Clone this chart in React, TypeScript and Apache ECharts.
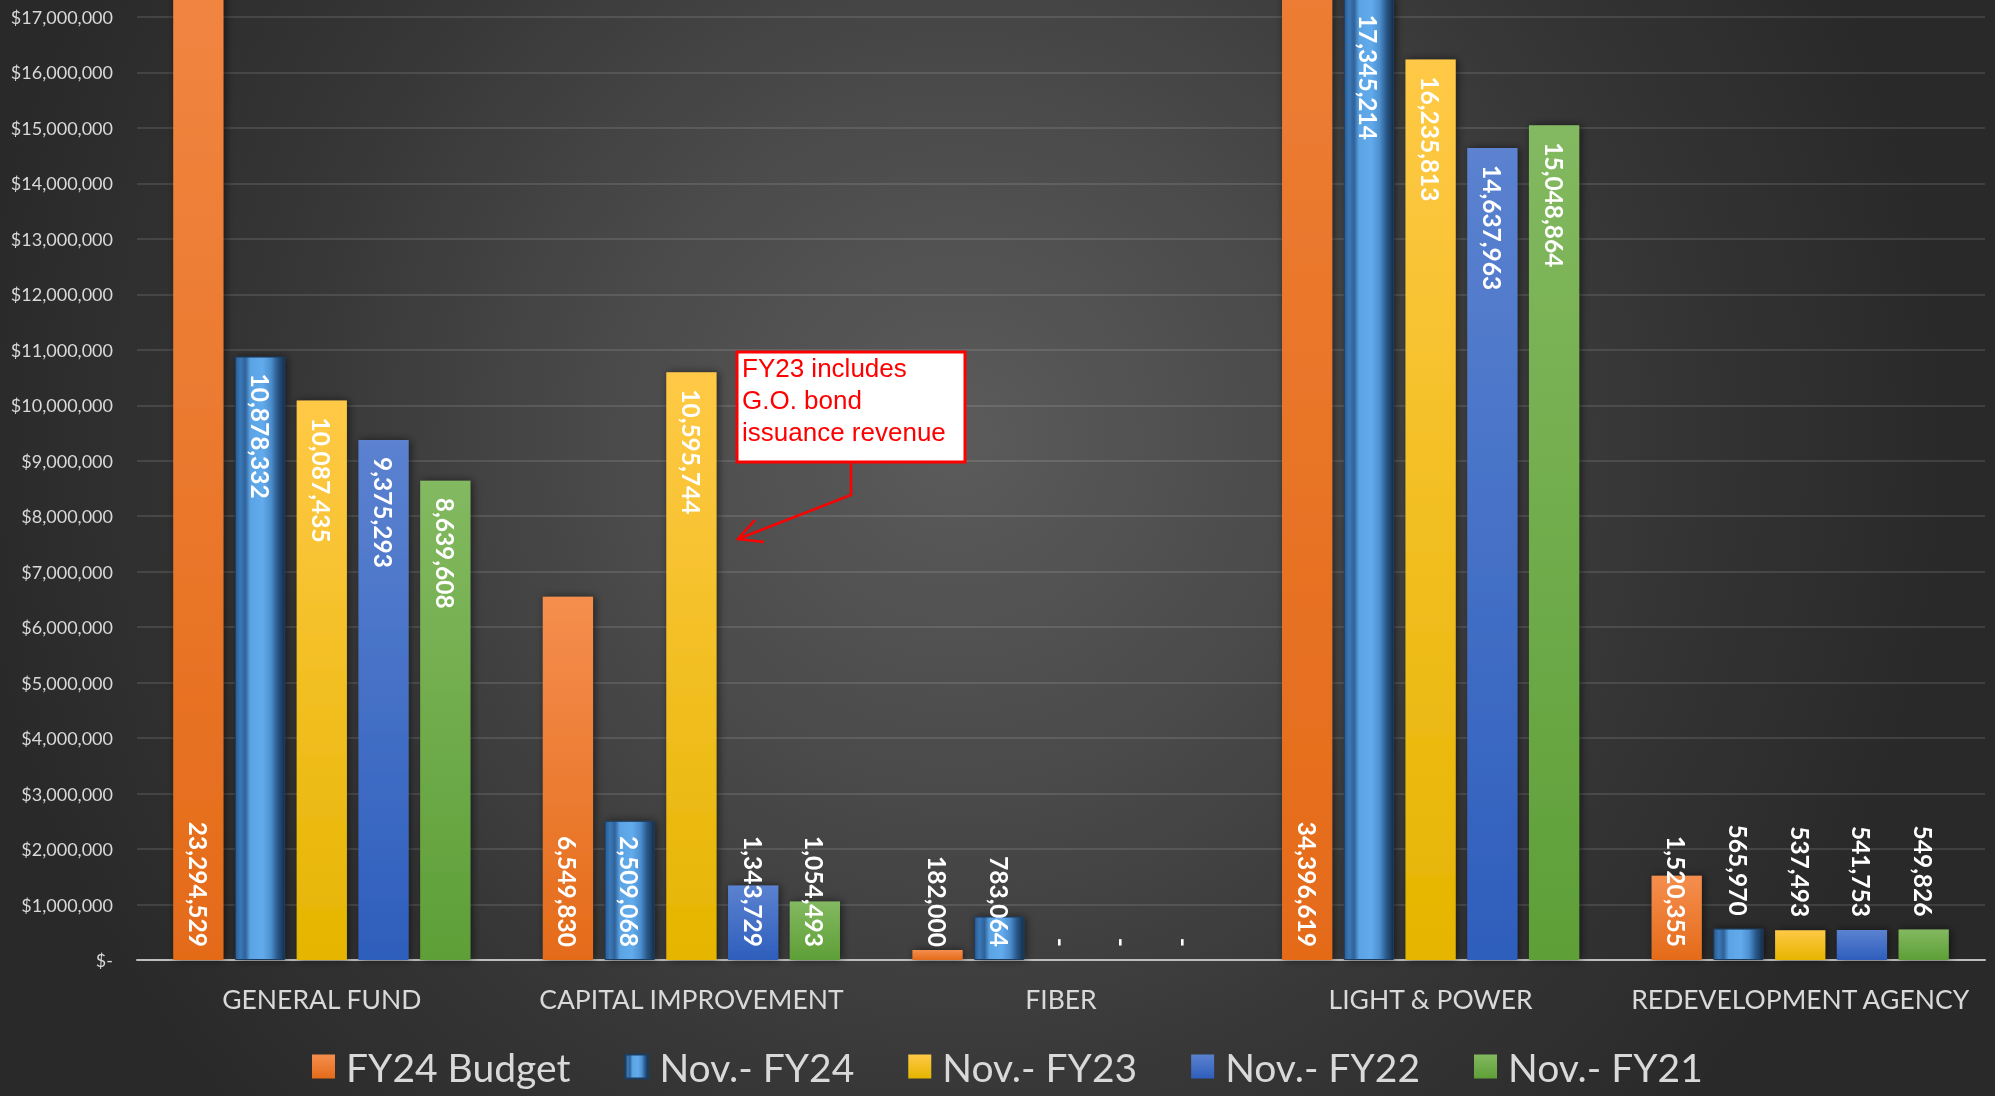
import React, { useEffect, useRef } from "react";
import * as echarts from "echarts";

// ---------- data ----------
const categories = ["GENERAL FUND", "CAPITAL IMPROVEMENT", "FIBER", "LIGHT & POWER", "REDEVELOPMENT AGENCY"];
const seriesNames = ["FY24 Budget", "Nov.- FY24", "Nov.- FY23", "Nov.- FY22", "Nov.- FY21"];
const fy24Budget = [23294529, 6549830, 182000, 34396619, 1520355];
const novFY24 = [10878332, 2509068, 783064, 17345214, 565970];
const novFY23 = [10087435, 10595744, 0, 16235813, 537493];
const novFY22 = [9375293, 1343729, 0, 14637963, 541753];
const novFY21 = [8639608, 1054493, 0, 15048864, 549826];
const yMin = 0;
const yMax = 17000000;
const yStep = 1000000;
const annotationLines = ["FY23 includes", "G.O. bond", "issuance revenue"];

// ---------- styling ----------
const labelPlacement: string[][] = [
  ["base", "base", "base", "base", "base"],
  ["inside", "base", "base", "inside", "top"],
  ["inside", "inside", "base", "inside", "top"],
  ["inside", "base", "base", "inside", "top"],
  ["inside", "base", "base", "inside", "top"],
];

const vgrad = (a: string, b: string) => ({
  type: "linear", x: 0, y: 0, x2: 0, y2: 1,
  colorStops: [{ offset: 0, color: a }, { offset: 1, color: b }],
});
const bevel = {
  type: "linear", x: 0, y: 0, x2: 1, y2: 0,
  colorStops: [
    { offset: 0, color: "#2a5d93" },
    { offset: 0.1, color: "#3b78b8" },
    { offset: 0.2, color: "#2f6299" },
    { offset: 0.3, color: "#5aa3e3" },
    { offset: 0.55, color: "#62abec" },
    { offset: 0.72, color: "#4d8fcf" },
    { offset: 0.85, color: "#2a5a8c" },
    { offset: 1, color: "#162f4a" },
  ],
};
const seriesColors: any[] = [
  vgrad("#f58e4e", "#e46b19"),
  bevel,
  vgrad("#ffc946", "#e5b500"),
  vgrad("#5b82d0", "#2e5ebc"),
  vgrad("#83b960", "#5e9f37"),
];
const seriesData = [fy24Budget, novFY24, novFY23, novFY22, novFY21];

const labelFont = { color: "#ffffff", fontFamily: "Lato", fontWeight: "bold", fontSize: 24.5 };
function labelFor(mode: string) {
  if (mode === "inside") return { show: true, position: "insideTop", distance: 17, rotate: -90, align: "left", verticalAlign: "middle", ...labelFont };
  if (mode === "top") return { show: true, position: "top", distance: 13, rotate: -90, align: "right", verticalAlign: "middle", ...labelFont };
  return { show: true, position: "insideBottom", distance: 13, rotate: -90, align: "right", verticalAlign: "middle", ...labelFont };
}

const fmtNum = (v: number) => (v === 0 ? "-" : v.toLocaleString("en-US"));

export default function App() {
  const ref = useRef<HTMLDivElement>(null);
  useEffect(() => {
    const chart = echarts.init(ref.current!, null, { renderer: "svg" });
    const series = seriesNames.map((name, si) => ({
      name,
      type: "bar",
      clip: false,
      barGap: "23%",
      barCategoryGap: "19.6%",
      itemStyle: {
        color: seriesColors[si],
        borderColor: si === 1 ? "#1d3d5e" : undefined,
        borderWidth: si === 1 ? 1 : 0,
        shadowBlur: 8,
        shadowColor: "rgba(0,0,0,0.55)",
        shadowOffsetX: 2,
      },
      label: { formatter: (p: any) => fmtNum(p.value) },
      data: seriesData[si].map((v, ci) => ({ value: v, label: labelFor(labelPlacement[si][ci]) })),
    }));
    chart.setOption({
      animation: false,
      backgroundColor: "transparent",
      grid: { left: 137, right: 10, top: 17, bottom: 136, containLabel: false, outerBoundsMode: "none" },
      legend: {
        data: seriesNames,
        left: 307,
        top: 1042,
        icon: "rect",
        itemWidth: 23,
        itemHeight: 24,
        itemGap: 54,
        textStyle: { color: "#d9d9d9", fontSize: 39, fontFamily: "Lato", padding: [0, 0, 0, 6] },
      },
      xAxis: {
        type: "category",
        data: categories,
        axisTick: { show: false },
        axisLine: { lineStyle: { color: "#bdbdbd", width: 2 } },
        axisLabel: { color: "#d9d9d9", fontSize: 26.5, fontFamily: "Lato", margin: 25, interval: 0, hideOverlap: false },
      },
      yAxis: {
        type: "value",
        min: yMin,
        max: yMax,
        interval: yStep,
        axisLine: { show: false },
        axisTick: { show: false },
        splitLine: { lineStyle: { color: "rgba(255,255,255,0.15)", width: 1.5 } },
        axisLabel: {
          color: "#d9d9d9",
          fontSize: 18,
          fontFamily: "Lato",
          margin: 24,
          formatter: (v: number) => (v === 0 ? "$-" : "$" + v.toLocaleString("en-US")),
        },
      },
      graphic: [
        { type: "rect", shape: { x: 737, y: 352, width: 228, height: 110 }, style: { fill: "#ffffff", stroke: "#ff0000", lineWidth: 3 }, z: 100 },
        {
          type: "text", x: 742, y: 352, z: 101,
          style: { text: annotationLines.join("\n"), fill: "#ff0000", fontSize: 26, lineHeight: 32, fontFamily: "Liberation Sans", verticalAlign: "top", align: "left" },
        },
        { type: "polyline", shape: { points: [[851, 463], [851, 495], [738, 539]] }, style: { stroke: "#ff0000", lineWidth: 2.5, fill: null }, z: 100 },
        { type: "polyline", shape: { points: [[755, 520], [738, 539], [764, 542]] }, style: { stroke: "#ff0000", lineWidth: 2.5, fill: null }, z: 100 },
      ],
      series,
    });
    return () => chart.dispose();
  }, []);
  return (
    <div
      ref={ref}
      style={{
        position: "fixed",
        left: 0,
        top: 0,
        width: 1995,
        height: 1096,
        background: "radial-gradient(circle 1000px at 48% 40%, #5b5b5b 0%, #4a4a4a 35%, #353535 70%, #292929 100%)",
      }}
    />
  );
}
